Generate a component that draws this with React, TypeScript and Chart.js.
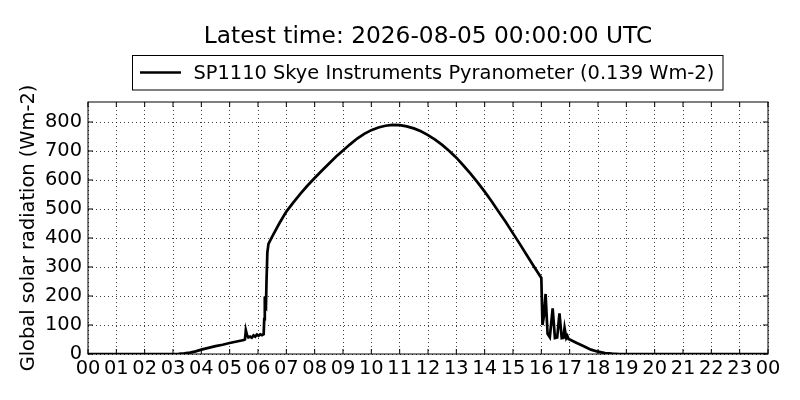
import React, { useEffect, useRef } from "react";
import { Chart, registerables } from "chart.js";

Chart.register(...registerables);

const TITLE = "Latest time: 2026-08-05 00:00:00 UTC";
const SERIES_LABEL = "SP1110 Skye Instruments Pyranometer (0.139 Wm-2)";
const Y_TITLE = "Global solar radiation (Wm-2)";
const FONT = "'DejaVu Sans', sans-serif";

const hourLabels = [
  "00", "01", "02", "03", "04", "05", "06", "07", "08", "09", "10", "11",
  "12", "13", "14", "15", "16", "17", "18", "19", "20", "21", "22", "23", "00",
];
const Y_MIN = 0;
const Y_MAX = 869;
const Y_STEP = 100;

// time of day in hours (UTC)
const hours = [
  0, 1, 2, 3.0, 3.2, 3.4, 3.6, 3.8, 4.0, 4.25, 4.5, 4.75, 5.0, 5.25, 5.5,
  5.54, 5.57, 5.61, 5.66, 5.72, 5.78, 5.84, 5.9, 5.96, 6.02, 6.08, 6.14, 6.2,
  6.22, 6.24, 6.26, 6.28, 6.3, 6.33, 6.37, 6.5, 6.75, 7.0, 7.25, 7.5, 7.75,
  8.0, 8.25, 8.5, 8.75, 9.0, 9.25, 9.5, 9.75, 10.0, 10.25, 10.5, 10.75, 11.0,
  11.25, 11.5, 11.75, 12.0, 12.25, 12.5, 12.75, 13.0, 13.25, 13.5, 13.75,
  14.0, 14.25, 14.5, 14.75, 15.0, 15.25, 15.5, 15.75, 16.0, 16.04, 16.09,
  16.15, 16.22, 16.3, 16.4, 16.48, 16.56, 16.64, 16.72, 16.78, 16.82, 16.88,
  16.92, 16.96, 17.0, 17.25, 17.5, 17.75, 18.0, 18.25, 18.5, 18.75, 19, 20,
  21, 22, 23, 24,
];
// global solar radiation (W m-2)
const radiation = [
  0, 0, 0, 0, 0.5, 2, 5, 9, 15, 21, 27, 32, 38, 43, 48,
  50, 82, 66, 57, 60, 56, 64, 60, 67, 63, 68, 65, 68,
  120, 198, 160, 158, 250, 350, 380, 405, 450, 491, 523, 553, 581,
  607, 632, 656, 680, 702, 723, 743, 759, 772, 781, 787, 790, 789,
  785, 778, 768, 755, 739, 721, 700, 677, 650, 622, 592,
  560, 526, 490, 454, 416, 378, 339, 300, 262, 100, 130,
  207, 70, 58, 157, 55, 57, 140, 55, 56, 90, 55,
  62, 52, 50, 38, 27, 15, 8, 3, 1, 0, 0, 0,
  0, 0, 0, 0,
];

const points = hours.map((h, i) => ({ x: h, y: radiation[i] }));

const framePlugin = {
  id: "frameAndHeader",
  afterDraw(chart: any) {
    const { ctx, chartArea, scales } = chart;
    const { left, right, top, bottom } = chartArea;
    ctx.save();
    ctx.strokeStyle = "#000";
    ctx.lineWidth = 1;
    ctx.strokeRect(left, top, right - left, bottom - top);
    // inward tick marks on all sides
    const tl = 5;
    ctx.beginPath();
    scales.x.ticks.forEach((t: any) => {
      const px = scales.x.getPixelForValue(t.value);
      ctx.moveTo(px, bottom);
      ctx.lineTo(px, bottom - tl);
      ctx.moveTo(px, top);
      ctx.lineTo(px, top + tl);
    });
    scales.y.ticks.forEach((t: any) => {
      const py = scales.y.getPixelForValue(t.value);
      ctx.moveTo(left, py);
      ctx.lineTo(left + tl, py);
      ctx.moveTo(right, py);
      ctx.lineTo(right - tl, py);
    });
    ctx.stroke();

    // title
    ctx.fillStyle = "#000";
    ctx.font = `23.3px ${FONT}`;
    ctx.textAlign = "center";
    ctx.textBaseline = "alphabetic";
    ctx.fillText(TITLE, (left + right) / 2, 42.5);

    // legend
    const bx = 132.5, by = 55.5, bw = 590.5, bh = 34.5;
    ctx.fillStyle = "#fff";
    ctx.fillRect(bx, by, bw, bh);
    ctx.strokeStyle = "#000";
    ctx.lineWidth = 1;
    ctx.strokeRect(bx, by, bw, bh);
    ctx.lineWidth = 2.6;
    ctx.beginPath();
    ctx.moveTo(140, 72.5);
    ctx.lineTo(181, 72.5);
    ctx.stroke();
    ctx.fillStyle = "#000";
    ctx.font = `19.4px ${FONT}`;
    ctx.textAlign = "left";
    ctx.fillText(chart.data.datasets[0].label, 193.5, 79);
    ctx.restore();
  },
};

export default function App() {
  const ref = useRef<HTMLCanvasElement | null>(null);
  useEffect(() => {
    if (!ref.current) return;
    const chart = new Chart(ref.current, {
      type: "line",
      data: {
        datasets: [
          {
            label: SERIES_LABEL,
            data: points,
            borderColor: "#000",
            backgroundColor: "#000",
            borderWidth: 2.7,
            pointRadius: 0,
            tension: 0,
            fill: false,
          },
        ],
      },
      options: {
        animation: false,
        responsive: false,
        maintainAspectRatio: false,
        layout: { padding: { top: 102, right: 32, bottom: 0, left: 0 } },
        plugins: {
          legend: { display: false },
          title: { display: false },
          tooltip: { enabled: false },
        },
        scales: {
          x: {
            type: "linear",
            min: 0,
            max: 24,
            afterFit: (s: any) => {
              s.height = 46;
            },
            ticks: {
              stepSize: 1,
              autoSkip: false,
              maxRotation: 0,
              includeBounds: false,
              color: "#000",
              padding: 3,
              font: { family: FONT, size: 19.4 },
              callback: (v: any) => hourLabels[Math.round(Number(v))],
            },
            grid: {
              color: "rgba(0,0,0,0.75)",
              lineWidth: 1,
              drawTicks: false,
            },
            border: { display: false, dash: [1, 3] },
          },
          y: {
            min: Y_MIN,
            max: Y_MAX,
            afterFit: (s: any) => {
              s.width = 88;
            },
            title: {
              display: true,
              text: Y_TITLE,
              color: "#000",
              font: { family: FONT, size: 19.4 },
              padding: { top: 17, bottom: 0 },
            },
            ticks: {
              stepSize: Y_STEP,
              includeBounds: false,
              color: "#000",
              padding: 6,
              font: { family: FONT, size: 19.4 },
            },
            grid: {
              color: "rgba(0,0,0,0.75)",
              lineWidth: 1,
              drawTicks: false,
            },
            border: { display: false, dash: [1, 3] },
          },
        },
      },
      plugins: [framePlugin],
    });
    return () => chart.destroy();
  }, []);
  return (
    <div style={{ position: "fixed", left: 0, top: 0, width: 800, height: 400, background: "#fff" }}>
      <canvas ref={ref} width={800} height={400} style={{ width: 800, height: 400, display: "block" }} />
    </div>
  );
}
